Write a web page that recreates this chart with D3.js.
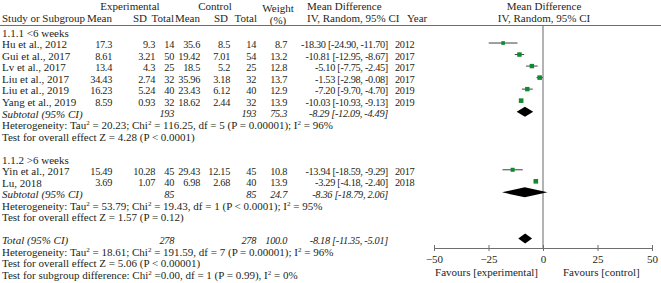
<!DOCTYPE html>
<html>
<head>
<meta charset="utf-8">
<script src="https://cdn.jsdelivr.net/npm/d3@7"></script>
<style>
  body { margin: 0; background: #fff; }
  svg { display: block; }
  text { font-family: "Liberation Serif", "DejaVu Serif", serif; font-size: 11px; fill: #231f20; }
  text.num { font-size: 10.3px; letter-spacing: -0.3px; }
</style>
</head>
<body>
<div id="chart"></div>
<script>
// study level data
var studies = ["Hu et al., 2012", "Gui et al., 2017", "Lv et al., 2017", "Liu et al., 2017", "Liu et al., 2019", "Yang et al., 2019", "Yin et al., 2017", "Lu, 2018"];
var groups = [1, 1, 1, 1, 1, 1, 2, 2];
var expMean = [17.3, 8.61, 13.4, 34.43, 16.23, 8.59, 15.49, 3.69];
var expSD = [9.3, 3.21, 4.3, 2.74, 5.24, 0.93, 10.28, 1.07];
var expN = [14, 50, 25, 32, 40, 32, 45, 40];
var ctrlMean = [35.6, 19.42, 18.5, 35.96, 23.43, 18.62, 29.43, 6.98];
var ctrlSD = [8.5, 7.01, 5.2, 3.18, 6.12, 2.44, 12.15, 2.68];
var ctrlN = [14, 54, 25, 32, 40, 32, 45, 40];
var weights = [8.7, 13.2, 12.8, 13.7, 12.9, 13.9, 10.8, 13.9];
var md = [-18.30, -10.81, -5.10, -1.53, -7.20, -10.03, -13.94, -3.29];
var ciLow = [-24.90, -12.95, -7.75, -2.98, -9.70, -10.93, -18.59, -4.18];
var ciHigh = [-11.70, -8.67, -2.45, -0.08, -4.70, -9.13, -9.29, -2.40];
var years = [2012, 2017, 2017, 2017, 2019, 2019, 2017, 2018];

// pooled estimates: subgroup 1, subgroup 2, total
var pooledLabels = ["Subtotal (95% CI)", "Subtotal (95% CI)", "Total (95% CI)"];
var pooledExpN = [193, 85, 278];
var pooledCtrlN = [193, 85, 278];
var pooledWeight = ["75.3", "24.7", "100.0"];
var pooledMD = [-8.29, -8.36, -8.18];
var pooledLow = [-12.09, -18.79, -11.35];
var pooledHigh = [-4.49, 2.06, -5.01];

var subgroupNames = ["1.1.1 <6 weeks", "1.1.2 >6 weeks"];
var axisTicks = [-50, -25, 0, 25, 50];

// row numbers of each line of the table
var studyRows = [1, 2, 3, 4, 5, 6, 12, 13];
var groupRows = [0, 11];
var pooledRows = [7, 14, 18];

var W = 661, H = 283;
var svg = d3.select('#chart').append('svg').attr('width', W).attr('height', H);

var y = d3.scaleLinear().domain([0, 21]).range([33, 275]);
var x = d3.scaleLinear().domain([-50, 50]).range([434, 652]);
var sq = d3.scaleSqrt().domain([0, 14]).range([0, 4.6]);

function fmt2(v) { return v.toFixed(2); }
function ciText(m, l, h) { return fmt2(m) + ' [' + fmt2(l) + ', ' + fmt2(h) + ']'; }

function txt(xp, yp, s, anchor, italic) {
  var t = svg.append('text').attr('x', xp).attr('y', yp).attr('dy', '0.35em')
    .attr('text-anchor', anchor || 'start').text(s);
  if (italic) t.attr('font-style', 'italic');
  return t;
}
function num(xp, yp, s, anchor, italic) {
  return txt(xp, yp, s, anchor, italic).attr('class', 'num');
}

// header
txt(130, 6, 'Experimental', 'middle');
txt(215, 6, 'Control', 'middle');
txt(278, 8, 'Weight', 'middle');
txt(278, 20, '(%)', 'middle');
txt(307, 6, 'Mean Difference');
txt(544, 6, 'Mean Difference', 'middle');
txt(2, 18, 'Study or Subgroup');
txt(112, 18, 'Mean', 'end');
txt(147, 18, 'SD', 'end');
txt(174, 18, 'Total', 'end');
txt(200, 18, 'Mean', 'end');
txt(228, 18, 'SD', 'end');
txt(257, 18, 'Total', 'end');
txt(307, 18, 'IV, Random, 95% CI');
txt(407, 18, 'Year');
txt(544, 18, 'IV, Random, 95% CI', 'middle');

svg.append('line').attr('x1', 0).attr('x2', W).attr('y1', 25.5).attr('y2', 25.5)
  .attr('stroke', '#6d6e71').attr('stroke-width', 1);

// subgroup labels
groupRows.forEach(function (r, i) { txt(2, y(r), subgroupNames[i]); });

// study rows
studies.forEach(function (s, i) {
  var yy = y(studyRows[i]);
  txt(2, yy, s);
  num(112, yy, expMean[i], 'end');
  num(155, yy, expSD[i], 'end');
  num(174, yy, expN[i], 'end');
  num(200, yy, ctrlMean[i], 'end');
  num(230, yy, ctrlSD[i], 'end');
  num(256, yy, ctrlN[i], 'end');
  num(287, yy, weights[i].toFixed(1), 'end');
  num(388, yy, ciText(md[i], ciLow[i], ciHigh[i]), 'end');
  num(395, yy, years[i]);
});

// pooled rows
pooledLabels.forEach(function (s, i) {
  var yy = y(pooledRows[i]);
  txt(2, yy, s, 'start', true);
  num(174, yy, pooledExpN[i], 'end', true);
  num(256, yy, pooledCtrlN[i], 'end', true);
  num(287, yy, pooledWeight[i], 'end', true);
  num(388, yy, ciText(pooledMD[i], pooledLow[i], pooledHigh[i]), 'end', true);
});

// heterogeneity / test lines
function sup(t) {
  t.append('tspan').attr('baseline-shift', 'super').attr('font-size', '7px').text('2');
}
function hetLine(r, tau, chi, df, p, i2) {
  var t = txt(2, y(r), '');
  t.append('tspan').text('Heterogeneity: Tau');
  sup(t);
  t.append('tspan').text(' = ' + tau + '; Chi');
  sup(t);
  t.append('tspan').text(' = ' + chi + ', df = ' + df + ' (' + p + '); I');
  sup(t);
  t.append('tspan').text(' = ' + i2);
}
hetLine(8, '20.23', '116.25', 5, 'P = 0.00001', '96%');
txt(2, y(9), 'Test for overall effect Z = 4.28 (P < 0.0001)');
hetLine(15, '53.79', '19.43', 1, 'P < 0.0001', '95%');
txt(2, y(16), 'Test for overall effect Z = 1.57 (P = 0.12)');
hetLine(19, '18.61', '191.59', 7, 'P = 0.00001', '96%');
txt(2, y(20), 'Test for overall effect Z = 5.06 (P < 0.00001)');
(function () {
  var t = txt(2, y(21), '');
  t.append('tspan').text('Test for subgroup difference: Chi');
  sup(t);
  t.append('tspan').text(' =0.00, df = 1 (P = 0.99), I');
  sup(t);
  t.append('tspan').text(' = 0%');
})();

// forest plot
var axisY = 248;
svg.append('line').attr('x1', x(0)).attr('x2', x(0)).attr('y1', 26).attr('y2', axisY)
  .attr('stroke', '#808080').attr('stroke-width', 1.2);

var plot = svg.append('g');
studies.forEach(function (s, i) {
  var yy = y(studyRows[i]) - 1.5;
  plot.append('line').attr('x1', x(ciLow[i])).attr('x2', x(ciHigh[i]))
    .attr('y1', yy).attr('y2', yy).attr('stroke', '#414042').attr('stroke-width', 1);
  var s2 = sq(weights[i]);
  plot.append('rect').attr('x', x(md[i]) - s2 / 2).attr('y', yy - s2 / 2)
    .attr('width', s2).attr('height', s2).attr('fill', '#0f8a2e');
});

pooledLabels.forEach(function (s, i) {
  var yy = y(pooledRows[i]) - 2;
  var h = 5;
  var pts = [[x(pooledLow[i]), yy], [x(pooledMD[i]), yy - h], [x(pooledHigh[i]), yy], [x(pooledMD[i]), yy + h]];
  plot.append('polygon').attr('points', pts.map(function (p) { return p.join(','); }).join(' '))
    .attr('fill', '#000');
});

var ax = svg.append('g').attr('transform', 'translate(0,' + axisY + ')')
  .call(d3.axisBottom(x).tickValues(axisTicks).tickSizeInner(3).tickSizeOuter(0));
ax.select('.domain').attr('stroke', '#6d6e71');
ax.selectAll('.tick line').attr('y1', -3).attr('y2', 3).attr('stroke', '#6d6e71');
ax.selectAll('.tick text').attr('y', 11).attr('dy', '0.35em')
  .style('font-family', '"Liberation Serif", serif').style('font-size', '11px').attr('fill', '#231f20');

txt(538, 272, 'Favours [experimental]', 'end');
txt(563, 272, 'Favours [control]');
</script>
</body>
</html>
